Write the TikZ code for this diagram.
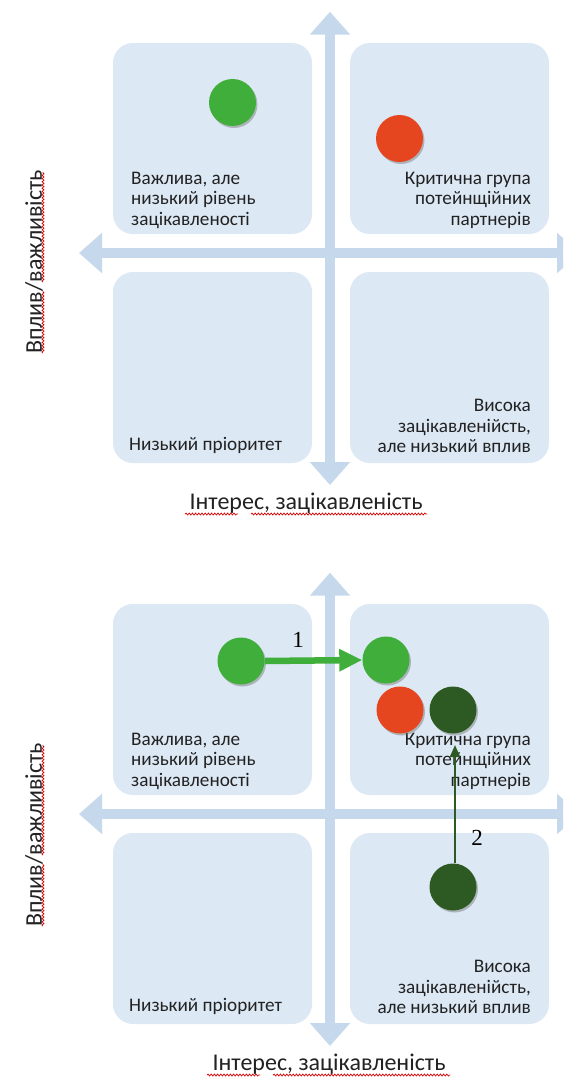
\documentclass[tikz,border=0pt]{standalone}
\usepackage{fontspec}
\setmainfont{Carlito}
\newfontfamily\numfont{Liberation Serif}
\usetikzlibrary{arrows.meta,shadows,decorations.pathmorphing,calc}
\definecolor{boxfill}{HTML}{DCE8F4}
\definecolor{axisblue}{HTML}{C6D9EC}
\definecolor{cgreen}{HTML}{40AE3A}
\definecolor{cred}{HTML}{E5461F}
\definecolor{cdark}{HTML}{2D5A22}
\definecolor{txt}{HTML}{222222}
\begin{document}
\begin{tikzpicture}[x=1pt,y=-1pt,
  quad/.style={rectangle, rounded corners=20pt, fill=boxfill, minimum width=199pt, minimum height=191pt, inner sep=0pt},
  axisline/.style={line width=10pt, draw=axisblue, {Triangle[width=39pt,length=23pt]}-{Triangle[width=39pt,length=23pt]}},
  qtext/.style={text=txt, font=\fontsize{19.2}{20.5}\selectfont, inner sep=0pt},
  axlabel/.style={text=txt, font=\fontsize{24}{26}\selectfont, inner sep=0pt},
  dot/.style={circle, minimum size=47pt, inner sep=0pt, drop shadow={shadow xshift=1.5pt, shadow yshift=-2pt, opacity=0.45, fill=black!55}},
  numlbl/.style={text=black, font=\numfont\fontsize{23}{25}\selectfont, inner sep=0pt},
  wavy/.style={draw=red!85!black, line width=0.7pt, decorate, decoration={snake, amplitude=1pt, segment length=3.2pt}},
]
\useasboundingbox (0,0) rectangle (563,1077);
\clip (0,0) rectangle (563,1077);
\fill[white] (0,0) rectangle (563,1077);

% ================= TOP DIAGRAM =================
\node[quad] (tTL) at (212.5,138.5) {};
\node[quad] (tTR) at (449.5,138.5) {};
\node[quad] (tBL) at (212.5,367.5) {};
\node[quad] (tBR) at (449.5,367.5) {};
\coordinate (tVtop) at (330,11.7);
\coordinate (tVbot) at (330,485);
\coordinate (tHl) at (79,253);
\coordinate (tHr) at (580,253);
\draw[axisline] (tVbot) -- (tVtop);
\draw[axisline] (tHl) -- (tHr);

\node[qtext, align=left, anchor=west] (tTLt) at (131,200) {Важлива, але\\низький рівень\\зацікавленості};
\node[qtext, align=right, anchor=east] (tTRt) at (531,200) {Критична група\\потейнщійних\\партнерів};
\node[qtext, anchor=west] (tBLt) at (129,445) {Низький пріоритет};
\node[qtext, align=right, anchor=east] (tBRt) at (531,426) {Висока\\зацікавленійсть,\\але низький вплив};

\node[dot, fill=cgreen] (tG) at (232.5,102.5) {};
\node[dot, fill=cred] (tR) at (399.5,138.5) {};

\node[axlabel] (tX) at (306,503) {Інтерес, зацікавленість};
\node[axlabel, rotate=90] (tY) at (34,262) {Вплив/важливість};
\draw[wavy] (185,514) -- (238,514);
\draw[wavy] (251,514) -- (427,514);
\draw[wavy] (43,353) -- (43,291);
\draw[wavy] (43,282) -- (43,172);

% ================= BOTTOM DIAGRAM =================
\node[quad] (bTL) at (212.5,699.5) {};
\node[quad] (bTR) at (449.5,699.5) {};
\node[quad] (bBL) at (212.5,928.5) {};
\node[quad] (bBR) at (449.5,928.5) {};
\coordinate (bVtop) at (330,572.7);
\coordinate (bVbot) at (330,1046);
\coordinate (bHl) at (79,814);
\coordinate (bHr) at (580,814);
\draw[axisline] (bVbot) -- (bVtop);
\draw[axisline] (bHl) -- (bHr);

\node[qtext, align=left, anchor=west] (bTLt) at (131,761) {Важлива, але\\низький рівень\\зацікавленості};
\node[qtext, align=right, anchor=east] (bTRt) at (531,761) {Критична група\\потейнщійних\\партнерів};
\node[qtext, anchor=west] (bBLt) at (129,1006) {Низький пріоритет};
\node[qtext, align=right, anchor=east] (bBRt) at (531,987) {Висока\\зацікавленійсть,\\але низький вплив};

\node[dot, fill=cgreen] (bG1) at (241,661) {};
\node[dot, fill=cgreen] (bG2) at (386,660) {};
\node[dot, fill=cred] (bR) at (400,710) {};
\node[dot, fill=cdark] (bD1) at (453,710) {};
\node[dot, fill=cdark] (bD2) at (453,887) {};

\draw[draw=cgreen, line width=6.5pt, -{Triangle[width=21pt,length=23pt]}] (bG1.east) -- (bG2.west);
\node[numlbl] (n1) at (298,640) {1};

\coordinate (a2end) at (455,745);
\draw[draw=cdark, line width=2pt, -{Triangle[width=10pt,length=12pt]}] (bD2.north -| a2end) -- (a2end);
\node[numlbl] (n2) at (477,838) {2};

\node[axlabel] (bX) at (329,1064) {Інтерес, зацікавленість};
\node[axlabel, rotate=90] (bY) at (34,835) {Вплив/важливість};
\draw[wavy] (207,1075) -- (260,1075);
\draw[wavy] (273,1075) -- (450,1075);
\draw[wavy] (43,926) -- (43,864);
\draw[wavy] (43,855) -- (43,745);
\end{tikzpicture}
\end{document}
